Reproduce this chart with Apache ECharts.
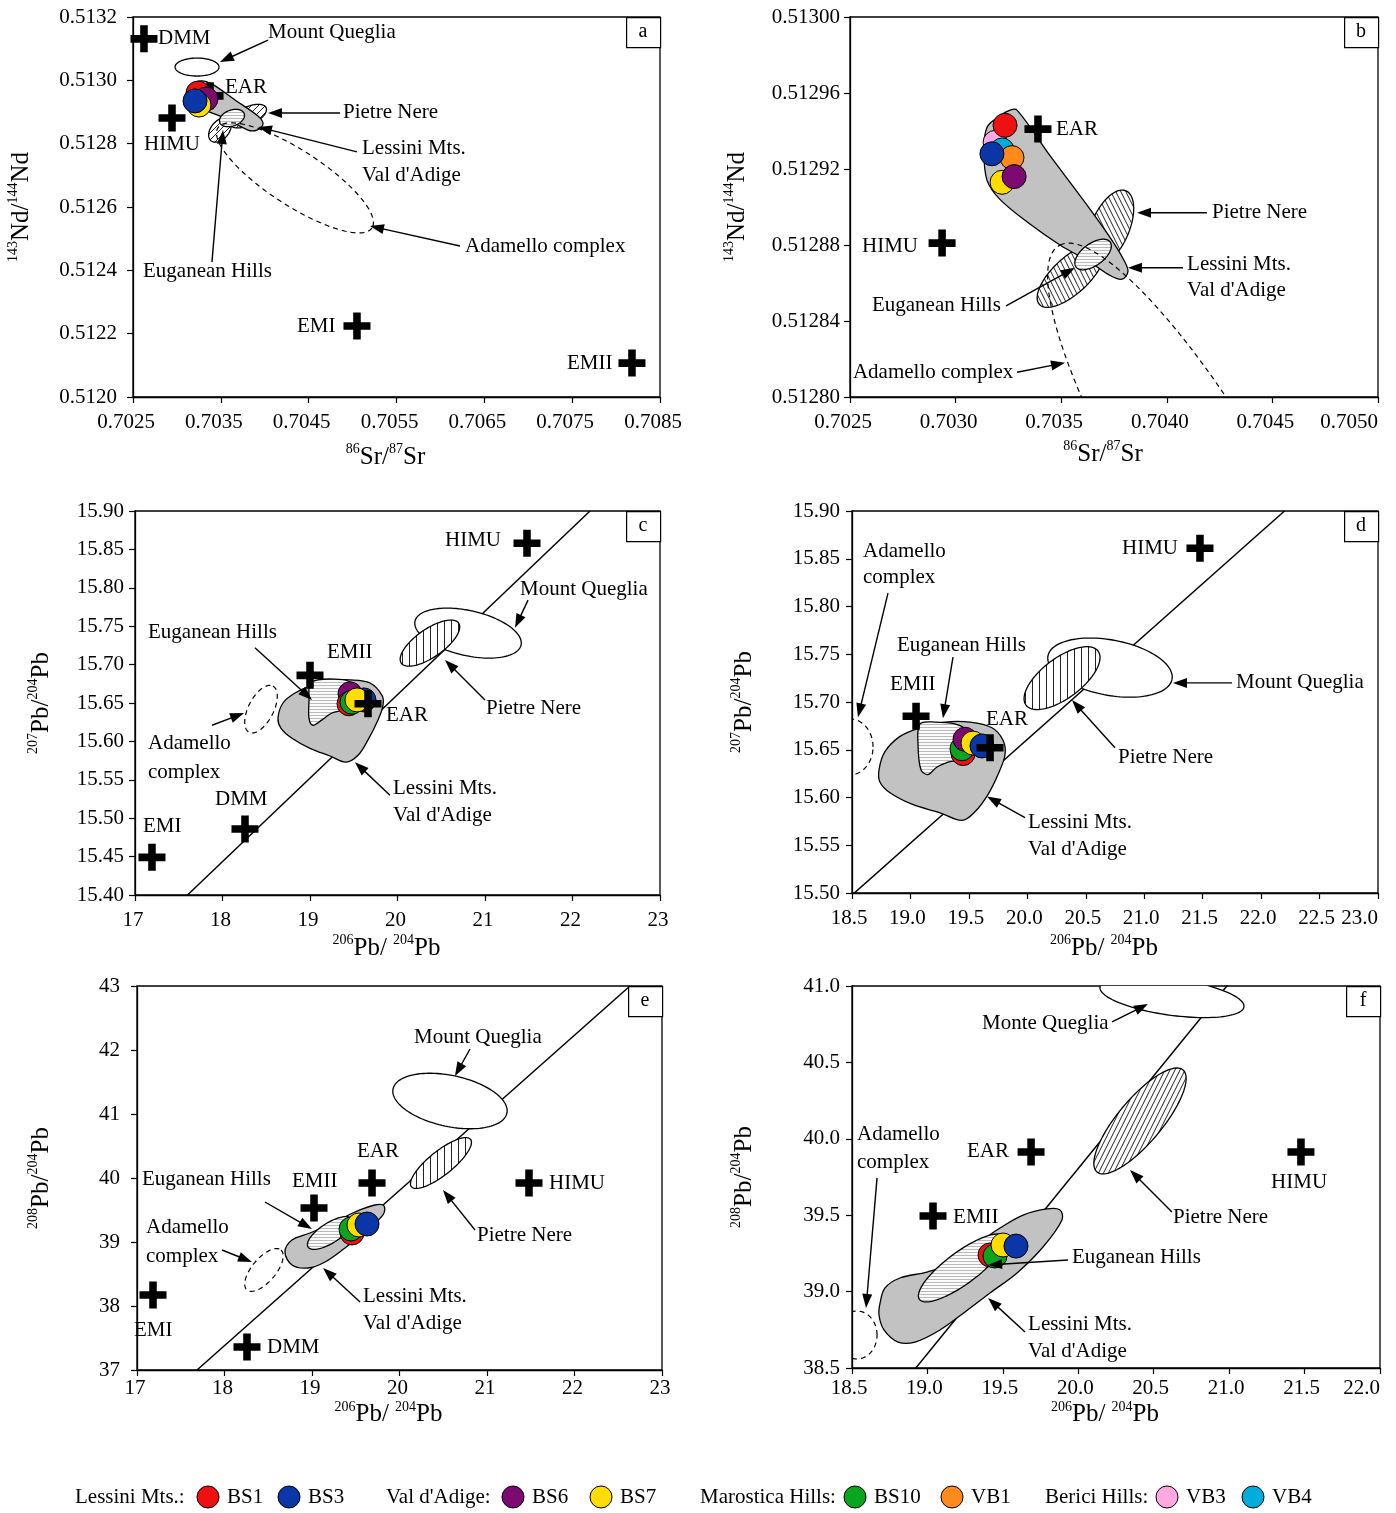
<!DOCTYPE html>
<html><head><meta charset="utf-8">
<script src="https://cdn.jsdelivr.net/npm/echarts/dist/echarts.min.js"></script>
<style>html,body{margin:0;padding:0;background:#fff}#chart{width:1396px;height:1513px}</style>
</head><body><div id="chart"></div>
<script>
// ---------------- DATA ----------------
// axis ranges: [min, max, tick interval, decimals]
const aXAxis = [0.7025, 0.7085, 0.001, 4], aYAxis = [0.5120, 0.5132, 0.0002, 4];
const bXAxis = [0.7025, 0.7050, 0.0005, 4], bYAxis = [0.51280, 0.51300, 0.00004, 5];
const cXAxis = [17, 23, 1, 0], cYAxis = [15.40, 15.90, 0.05, 2];
const dXAxis = [18.5, 23.0, 0.5, 1], dYAxis = [15.50, 15.90, 0.05, 2];
const eXAxis = [17, 23, 1, 0], eYAxis = [37, 43, 1, 0];
const fXAxis = [18.5, 22.0, 0.5, 1], fYAxis = [38.5, 41.0, 0.5, 1];

// Northern Hemisphere reference lines (two end points)
const pbLine207 = [[17.6, 15.40], [22.2, 15.90]];
const pbLine208 = [[17.686, 37], [22.634, 43]];

// end-members [name, x, y]
const aEndMembers = [['DMM',0.702625,0.513131],['HIMU',0.702944,0.512881],['EAR',0.703377,0.512951],['EMI',0.705050,0.512224],['EMII',0.708181,0.512107]];
const bEndMembers = [['EAR',0.703390,0.512941],['HIMU',0.702936,0.512881]];
const cEndMembers = [['HIMU',21.480,15.858],['EMII',19.000,15.686],['EAR',19.663,15.649],['DMM',18.257,15.486],['EMI',17.194,15.449]];
const dEndMembers = [['HIMU',21.477,15.861],['EMII',19.048,15.685],['EAR',19.681,15.652]];
const eEndMembers = [['EAR',19.686,39.922],['EMII',19.023,39.531],['HIMU',21.480,39.922],['EMI',17.183,38.172],['DMM',18.257,37.359]];
const fEndMembers = [['EAR',19.687,39.914],['EMII',19.037,39.495],['HIMU',21.476,39.914]];

// samples [sample, x, y] (drawing order)
const aSamples = [['BS1',0.703240,0.512960],['BS6',0.703331,0.512941],['BS7',0.703251,0.512922],['BS3',0.703206,0.512935]];
const bSamples = [['VB3',0.703187,0.512934],['VB4',0.703220,0.512930],['BS1',0.703234,0.512943],['VB1',0.703267,0.512926],['BS3',0.703172,0.512928],['BS7',0.703220,0.512913],['BS6',0.703277,0.512916]];
const cSamples = [['BS3',19.617,15.654],['BS6',19.457,15.662],['BS1',19.446,15.649],['BS10',19.480,15.651],['BS7',19.537,15.654]];
const dSamples = [['BS1',19.450,15.646],['BS10',19.441,15.651],['BS6',19.467,15.661],['BS7',19.535,15.657],['BS3',19.612,15.654]];
const eSamples = [['BS1',19.457,39.141],['BS10',19.446,39.203],['BS7',19.537,39.266],['BS3',19.629,39.281]];
const fSamples = [['BS1',19.415,39.240],['BS10',19.448,39.233],['BS7',19.501,39.305],['BS3',19.587,39.298]];

// fields drawn as outlines [x, y]
const aLessiniField = [[0.703149,0.512976],[0.703263,0.512998],[0.703399,0.512988],[0.703661,0.512938],[0.703923,0.512887],[0.703980,0.512862],[0.703912,0.512843],[0.703809,0.512843],[0.703547,0.512881],[0.703263,0.512913],[0.703149,0.512938]];
const bLessiniField = [[0.703291,0.512951],[0.703447,0.512927],[0.703589,0.512906],[0.703731,0.512884],[0.703797,0.512872],[0.703816,0.512866],[0.703788,0.512862],[0.703731,0.512864],[0.703636,0.512871],[0.703494,0.512880],[0.703352,0.512891],[0.703210,0.512904],[0.703149,0.512914],[0.703134,0.512930],[0.703149,0.512942],[0.703210,0.512948],[0.703258,0.512951]];
const cLessiniField = [[18.634,15.630],[18.691,15.650],[18.829,15.663],[19.000,15.672],[19.229,15.679],[19.457,15.680],[19.686,15.676],[19.823,15.660],[19.834,15.647],[19.777,15.628],[19.663,15.602],[19.549,15.582],[19.411,15.573],[19.229,15.581],[19.000,15.591],[18.794,15.604],[18.669,15.617]];
const cEuganeanField = [[19.000,15.675],[19.091,15.680],[19.286,15.681],[19.457,15.677],[19.480,15.654],[19.400,15.642],[19.251,15.637],[19.137,15.628],[19.034,15.621],[18.989,15.630],[18.989,15.654]];
const dLessiniField = [[18.731,15.629],[18.782,15.648],[18.911,15.664],[19.082,15.673],[19.296,15.679],[19.509,15.679],[19.698,15.673],[19.792,15.660],[19.809,15.645],[19.749,15.624],[19.663,15.603],[19.552,15.585],[19.441,15.576],[19.253,15.584],[19.013,15.593],[18.825,15.605],[18.740,15.616]];
const dEuganeanField = [[19.082,15.677],[19.210,15.679],[19.381,15.677],[19.467,15.671],[19.424,15.641],[19.321,15.637],[19.227,15.632],[19.150,15.624],[19.090,15.629],[19.065,15.655]];
const eLessiniField = [[18.691,38.844],[18.771,39.031],[18.977,39.141],[19.263,39.313],[19.491,39.469],[19.720,39.578],[19.823,39.563],[19.811,39.422],[19.606,39.156],[19.377,38.906],[19.149,38.688],[18.954,38.594],[18.771,38.641]];
const fLessiniField = [[18.686,38.925],[18.719,39.024],[18.818,39.089],[18.997,39.128],[19.183,39.194],[19.368,39.338],[19.481,39.416],[19.634,39.501],[19.793,39.541],[19.879,39.534],[19.892,39.469],[19.766,39.292],[19.594,39.122],[19.415,38.991],[19.249,38.867],[19.083,38.749],[18.918,38.670],[18.805,38.670],[18.712,38.749],[18.679,38.847]];

// elliptical fields [field, centre x, centre y, axis1 dx, axis1 dy, axis2 dx, axis2 dy]
const aEllipses = [
  ['Mount Queglia',0.703229,0.513042,0.000250,0,0,0.0000284],
  ['Pietre Nere',0.703809,0.512887,0.000206,0.0000268,0.0000433,-0.0000259],
  ['Pietre Nere',0.703490,0.512843,0.000102,0.0000338,0.0000786,-0.0000183],
  ['Euganean Hills',0.703627,0.512881,0.000139,0.0000139,0.0000307,-0.0000237],
  ['Adamello complex',0.704344,0.512692,0.000877,-0.000158,-0.000171,-0.0000726]
];
const bEllipses = [
  ['Pietre Nere',0.703731,0.512889,0.0000758,0.0000195,0.0000829,-0.0000040],
  ['Pietre Nere',0.703546,0.512864,0.000149,0.0000153,0.0000578,-0.0000070],
  ['Euganean Hills',0.703651,0.512875,0.0000805,0.0000066,0.0000313,-0.0000046],
  ['Adamello complex',0.704157,0.512756,-0.000663,0.000124,0.000284,0.0000158]
];
const cEllipses = [
  ['Mount Queglia',20.806,15.741,0.606,-0.0156,-0.057,-0.0286],
  ['Pietre Nere',20.371,15.728,0.328,0.026,0.091,-0.015],
  ['Adamello complex',18.440,15.642,0.137,0.030,0.126,-0.0078]
];
const dEllipses = [
  ['Mount Queglia',20.707,15.736,0.530,-0.0126,-0.051,-0.0283],
  ['Pietre Nere',20.297,15.725,0.308,0.0283,0.103,-0.0168],
  ['Adamello complex',18.483,15.653,0.197,0,0,0.0293]
];
const eEllipses = [
  ['Mount Queglia',20.577,41.203,0.651,-0.1875,-0.057,-0.391],
  ['Pietre Nere',20.474,40.234,0.338,0.369,0.0846,-0.147],
  ['Euganean Hills',19.206,39.141,0.251,0.219,0.0606,-0.133],
  ['Adamello complex',18.451,38.563,0.194,0.3125,0.103,-0.120]
];
const fEllipses = [
  ['Mount Queglia',20.621,40.928,0.477,-0.0655,-0.0199,-0.118],
  ['Pietre Nere',20.409,40.117,0.285,0.334,0.111,-0.0929],
  ['Euganean Hills',19.229,39.155,0.282,0.206,0.063,-0.0838],
  ['Adamello complex',18.533,38.716,0.133,0,0,0.157]
];

// annotation texts [text, left x, middle y]
const aLabels = [['DMM',0.702785,0.513131],['Mount Queglia',0.704037,0.513150],['EAR',0.703547,0.512976],['HIMU',0.702625,0.512796],['Pietre Nere',0.704891,0.512900],['Lessini Mts.',0.705107,0.512786],["Val d'Adige",0.705107,0.512698],['Adamello complex',0.706280,0.512474],['Euganean Hills',0.702614,0.512395],['EMI',0.704367,0.512224],['EMII',0.707441,0.512107]];
const bLabels = [['EAR',0.703475,0.512941],['HIMU',0.702557,0.512879],['Pietre Nere',0.704214,0.512897],['Lessini Mts.',0.704096,0.512870],["Val d'Adige",0.704096,0.512856],['Euganean Hills',0.702604,0.512848],['Adamello complex',0.702514,0.512813]];
const cLabels = [['HIMU',20.543,15.861],['Mount Queglia',21.400,15.798],['Euganean Hills',17.149,15.742],['EMII',19.194,15.716],['EAR',19.869,15.634],['Pietre Nere',21.012,15.643],['Adamello',17.149,15.597],['complex',17.149,15.560],['Lessini Mts.',19.949,15.539],["Val d'Adige",19.949,15.503],['DMM',17.914,15.524],['EMI',17.091,15.489]];
const dLabels = [['Adamello',18.594,15.858],['complex',18.594,15.830],['HIMU',20.810,15.861],['Euganean Hills',18.885,15.759],['EMII',18.825,15.718],['EAR',19.646,15.682],['Mount Queglia',21.785,15.720],['Pietre Nere',20.776,15.642],['Lessini Mts.',20.006,15.574],["Val d'Adige",20.006,15.546]];
const eLabels = [['Mount Queglia',20.166,42.203],['EAR',19.514,40.422],['Euganean Hills',17.057,39.969],['EMII',18.771,39.938],['HIMU',21.709,39.922],['Pietre Nere',20.886,39.094],['Adamello',17.103,39.219],['complex',17.103,38.781],['Lessini Mts.',19.583,38.141],["Val d'Adige",19.583,37.719],['EMI',16.966,37.625],['DMM',18.486,37.359]];
const fLabels = [['Monte Queglia',19.362,40.752],['Adamello',18.533,40.025],['complex',18.533,39.848],['EAR',19.262,39.914],['HIMU',21.278,39.711],['EMII',19.170,39.488],['Pietre Nere',20.628,39.488],['Euganean Hills',19.958,39.220],['Lessini Mts.',19.667,38.788],["Val d'Adige",19.667,38.611]];

// arrows [from x, from y, to x, to y]
const aArrows = [[0.704037,0.513127,0.703490,0.513058],[0.704857,0.512897,0.704037,0.512897],[0.705050,0.512774,0.703923,0.512853],[0.706223,0.512477,0.705198,0.512540],[0.703399,0.512426,0.703525,0.512843]];
const bArrows = [[0.704190,0.512897,0.703859,0.512897],[0.704077,0.512868,0.703816,0.512868],[0.703239,0.512848,0.703565,0.512868],[0.703291,0.512813,0.703518,0.512818]];
const cArrows = [[21.492,15.784,21.343,15.748],[21.000,15.654,20.543,15.706],[18.371,15.722,19.023,15.654],[17.880,15.621,18.246,15.637],[19.914,15.530,19.514,15.573]];
const dArrows = [[18.808,15.814,18.551,15.684],[19.364,15.747,19.278,15.683],[21.751,15.720,21.246,15.720],[20.750,15.652,20.382,15.702],[19.980,15.579,19.655,15.601]];
const eArrows = [[20.806,42.016,20.634,41.594],[20.863,39.188,20.497,39.813],[18.463,39.625,19.000,39.203],[17.971,38.875,18.314,38.688],[19.549,38.063,19.126,38.594]];
const fArrows = [[20.224,40.765,20.462,40.882],[18.666,39.744,18.593,38.893],[20.621,39.521,20.343,39.796],[19.932,39.207,19.402,39.174],[19.647,38.736,19.402,38.958]];

const legendGroups = [['Lessini Mts.:',['BS1','BS3']],["Val d'Adige:",['BS6','BS7']],['Marostica Hills:',['BS10','VB1']],['Berici Hills:',['VB3','VB4']]];

// ---------------- STYLE / LAYOUT ----------------
const FONT = '"Liberation Serif","Times New Roman",serif';
const SAMPLE_COLORS = {BS1:'#ee1111',BS3:'#0b36a8',BS6:'#7d0a70',BS7:'#ffdd00',BS10:'#0aa51e',VB1:'#ff8a1c',VB3:'#ffa8e2',VB4:'#00aedc'};
const CROSS = 'path://M3.6,0H6.4V3.6H10V6.4H6.4V10H3.6V6.4H0V3.6H3.6Z';
const FIELD_ORDER = {'Mount Queglia':1,'Pietre Nere':2,'Lessini':3,'Euganean Hills':4,'Adamello complex':5};

function makePattern(kind){
  const c = document.createElement('canvas');
  let w = 7, h = 7;
  if (kind === 'h') { w = 3; h = 3; }
  if (kind === 'd1s' || kind === 'd2s') { w = 5; h = 10; }
  c.width = w; c.height = h;
  const g = c.getContext('2d');
  g.fillStyle = kind === 'h' ? '#fbfbfb' : '#ffffff';
  g.fillRect(0,0,w,h);
  g.strokeStyle = kind === 'h' ? '#a8a8a8' : '#222';
  g.lineWidth = kind === 'h' ? 0.8 : 1;
  g.beginPath();
  if (kind === 'v') { g.moveTo(w/2,0); g.lineTo(w/2,h); }
  else if (kind === 'h') { g.moveTo(0,h/2); g.lineTo(w,h/2); }
  else if (kind === 'd1' || kind === 'd1s') { for (const dx of [-w,0,w]) { g.moveTo(dx,h); g.lineTo(dx+w,0); } }
  else { for (const dx of [-w,0,w]) { g.moveTo(dx,0); g.lineTo(dx+w,h); } }
  g.stroke();
  return {image:c, repeat:'repeat'};
}
const PAT = {v:makePattern('v'), h:makePattern('h'), d1:makePattern('d1'), d1s:makePattern('d1s'), d2s:makePattern('d2s')};

function fieldStyle(field, hatch){
  const base = {stroke:'#000', lineWidth:1.3};
  if (field === 'Mount Queglia') return Object.assign(base,{fill:'#fff'});
  if (field === 'Pietre Nere') return Object.assign(base,{fill:PAT[hatch]});
  if (field === 'Lessini') return Object.assign(base,{fill:'#c2c2c2'});
  if (field === 'Euganean Hills') return Object.assign(base,{fill:PAT.h});
  return {stroke:'#000', lineWidth:1.2, fill:null, lineDash:[5,4]};
}

function ellipsePts(e){
  const pts = [];
  for (let k = 0; k < 120; k++) {
    const t = k/120*2*Math.PI, c = Math.cos(t), s = Math.sin(t);
    pts.push([e[1]+e[3]*c+e[5]*s, e[2]+e[4]*c+e[6]*s]);
  }
  return pts;
}

const PANELS = [
  {id:'a', grid:{left:133,top:17,width:527,height:380}, xa:aXAxis, ya:aYAxis, xName:'{s|86}Sr/{s|87}Sr', yName:'{s|143}Nd/{s|144}Nd', xGap:45, yGap:97, xMargin:15, yMargin:16, xShift:7, alignMax:false, hatch:'d1', crossOnTop:false,
   ends:aEndMembers, samples:aSamples, ellipses:aEllipses, polys:[['Lessini',aLessiniField]], labels:aLabels, arrows:aArrows, line:null},
  {id:'b', grid:{left:850,top:17,width:528,height:380}, xa:bXAxis, ya:bYAxis, xName:'{s|86}Sr/{s|87}Sr', yName:'{s|143}Nd/{s|144}Nd', xGap:42, yGap:98, xMargin:15, yMargin:10, xShift:7, alignMax:true, hatch:'d2s', crossOnTop:false,
   ends:bEndMembers, samples:bSamples, ellipses:bEllipses, polys:[['Lessini',bLessiniField]], labels:bLabels, arrows:bArrows, line:null},
  {id:'c', grid:{left:135,top:511,width:525,height:384}, xa:cXAxis, ya:cYAxis, xName:'{s|206}Pb/ {s|204}Pb', yName:'{s|207}Pb/{s|204}Pb', xGap:38, yGap:79, xMargin:15, yMargin:11, xShift:2, alignMax:false, hatch:'v', crossOnTop:true,
   ends:cEndMembers, samples:cSamples, ellipses:cEllipses, polys:[['Lessini',cLessiniField],['Euganean Hills',cEuganeanField]], labels:cLabels, arrows:cArrows, line:pbLine207},
  {id:'d', grid:{left:852,top:511,width:526,height:382}, xa:dXAxis, ya:dYAxis, xName:'{s|206}Pb/ {s|204}Pb', yName:'{s|207}Pb/{s|204}Pb', xGap:40, yGap:93, xMargin:15, yMargin:12, xShift:3, alignMax:true, hatch:'v', crossOnTop:true,
   ends:dEndMembers, samples:dSamples, ellipses:dEllipses, polys:[['Lessini',dLessiniField],['Euganean Hills',dEuganeanField]], labels:dLabels, arrows:dArrows, line:pbLine207},
  {id:'e', grid:{left:137,top:986,width:525,height:384}, xa:eXAxis, ya:eYAxis, xName:'{s|206}Pb/ {s|204}Pb', yName:'{s|208}Pb/{s|204}Pb', xGap:29, yGap:81, xMargin:8, yMargin:17, xShift:2, alignMax:false, hatch:'v', crossOnTop:true,
   ends:eEndMembers, samples:eSamples, ellipses:eEllipses, polys:[['Lessini',eLessiniField]], labels:eLabels, arrows:eArrows, line:pbLine208},
  {id:'f', grid:{left:852,top:986,width:528,height:382}, xa:fXAxis, ya:fYAxis, xName:'{s|206}Pb/ {s|204}Pb', yName:'{s|208}Pb/{s|204}Pb', xGap:28, yGap:93, xMargin:10, yMargin:12, xShift:3, alignMax:true, hatch:'d1s', crossOnTop:true,
   ends:fEndMembers, samples:fSamples, ellipses:fEllipses, polys:[['Lessini',fLessiniField]], labels:fLabels, arrows:fArrows, line:pbLine208}
];

const nameRich = {s:{fontFamily:FONT, fontSize:14, color:'#000', lineHeight:12, verticalAlign:'top'}};
const labelStyle = {fontFamily:FONT, fontSize:21, color:'#000'};

const option = {animation:false, backgroundColor:'#fff', textStyle:{fontFamily:FONT}, grid:[], xAxis:[], yAxis:[], series:[], graphic:[]};

PANELS.forEach((P, i) => {
  const x0 = P.xa[0], y0 = P.ya[0];
  const sx = v => v - x0, sy = v => v - y0;
  const xMax = +(P.xa[1]-x0).toFixed(10);
  option.grid.push(Object.assign({show:true, borderColor:'#000', borderWidth:1.3, backgroundColor:'transparent'}, P.grid));
  option.xAxis.push({gridIndex:i, type:'value', min:0, max:xMax, interval:P.xa[2],
    name:P.xName, nameLocation:'middle', nameGap:P.xGap,
    nameTextStyle:{fontFamily:FONT, fontSize:25, color:'#000', lineHeight:30, padding:[0,22,0,0], rich:nameRich},
    axisLine:{show:true, onZero:false, lineStyle:{color:'#000', width:1.3}},
    axisTick:{show:true, inside:false, length:6, lineStyle:{color:'#000', width:1.2}},
    axisLabel:{margin:P.xMargin, ...labelStyle, alignMaxLabel:P.alignMax ? 'right' : null,
      rich:{p:{...labelStyle, padding:[0, 2*P.xShift, 0, 0]}, m:{...labelStyle}},
      formatter:v => {
        const t = (v + x0).toFixed(P.xa[3]);
        return (P.alignMax && Math.abs(v - xMax) < 1e-9) ? '{m|' + t + '}' : '{p|' + t + '}';
      }},
    splitLine:{show:false}});
  option.yAxis.push({gridIndex:i, type:'value', min:0, max:+(P.ya[1]-y0).toFixed(10), interval:P.ya[2],
    name:P.yName, nameLocation:'middle', nameGap:P.yGap, nameRotate:90,
    nameTextStyle:{fontFamily:FONT, fontSize:25, color:'#000', lineHeight:30, rich:nameRich},
    axisLine:{show:true, onZero:false, lineStyle:{color:'#000', width:1.3}},
    axisTick:{show:true, inside:false, length:6, lineStyle:{color:'#000', width:1.2}},
    axisLabel:{margin:P.yMargin, ...labelStyle, formatter:v => (v + y0).toFixed(P.ya[3])},
    splitLine:{show:false}});

  // reference line
  if (P.line) {
    option.series.push({type:'line', xAxisIndex:i, yAxisIndex:i, silent:true, z:1, symbol:'none',
      data:P.line.map(p => [sx(p[0]), sy(p[1])]), lineStyle:{color:'#000', width:1.5}});
  }

  // fields
  const shapes = [];
  P.ellipses.forEach(e => shapes.push({field:e[0], pts:ellipsePts(e), smooth:0}));
  P.polys.forEach(p => shapes.push({field:p[0], pts:p[1], smooth:0.35}));
  shapes.sort((u, w) => FIELD_ORDER[u.field] - FIELD_ORDER[w.field]);
  option.series.push({type:'custom', xAxisIndex:i, yAxisIndex:i, silent:true, z:2, clip:true,
    data:shapes.map(s => [sx(s.pts[0][0]), sy(s.pts[0][1])]),
    renderItem:(params, api) => {
      const s = shapes[params.dataIndex];
      const pts = s.pts.map(p => api.coord([sx(p[0]), sy(p[1])]));
      return {type:'polygon', z2:FIELD_ORDER[s.field], shape:{points:pts, smooth:s.smooth}, style:fieldStyle(s.field, P.hatch)};
    }});

  // arrows
  option.series.push({type:'custom', xAxisIndex:i, yAxisIndex:i, silent:true, z:5, clip:false,
    data:P.arrows.map(a => [sx(a[2]), sy(a[3])]),
    renderItem:(params, api) => {
      const a = P.arrows[params.dataIndex];
      const p1 = api.coord([sx(a[0]), sy(a[1])]), p2 = api.coord([sx(a[2]), sy(a[3])]);
      const ang = Math.atan2(p2[1]-p1[1], p2[0]-p1[0]), c = Math.cos(ang), s = Math.sin(ang);
      const L = 14, W = 5;
      const bx = p2[0]-L*c, by = p2[1]-L*s;
      return {type:'group', children:[
        {type:'line', shape:{x1:p1[0], y1:p1[1], x2:bx+2*c, y2:by+2*s}, style:{stroke:'#000', lineWidth:1.4}},
        {type:'polygon', shape:{points:[p2,[bx-W*s, by+W*c],[bx+W*s, by-W*c]]}, style:{fill:'#000'}}
      ]};
    }});

  // end-members
  option.series.push({type:'scatter', xAxisIndex:i, yAxisIndex:i, silent:true, z:P.crossOnTop ? 4 : 3,
    symbol:CROSS, symbolSize:27, itemStyle:{color:'#000', opacity:1},
    data:P.ends.map(e => ({name:e[0], value:[sx(e[1]), sy(e[2])]}))});

  // samples
  option.series.push({type:'scatter', xAxisIndex:i, yAxisIndex:i, silent:true, z:P.crossOnTop ? 3 : 4,
    symbol:'circle', symbolSize:24,
    data:P.samples.map(s => ({name:s[0], value:[sx(s[1]), sy(s[2])], itemStyle:{color:SAMPLE_COLORS[s[0]], borderColor:'#000', borderWidth:1, opacity:1}}))});

  // texts
  option.series.push({type:'custom', xAxisIndex:i, yAxisIndex:i, silent:true, z:6, clip:false,
    data:P.labels.map(l => [sx(l[1]), sy(l[2])]),
    renderItem:(params, api) => {
      const l = P.labels[params.dataIndex];
      const p = api.coord([sx(l[1]), sy(l[2])]);
      return {type:'text', x:p[0], y:p[1], style:{text:l[0], font:'21px ' + FONT, fill:'#000', textAlign:'left', textVerticalAlign:'middle'}};
    }});

  // panel letter box
  const g = P.grid, bw = 34, bh = 30;
  option.graphic.push({type:'rect', left:g.left+g.width-bw, top:g.top, shape:{width:bw, height:bh}, style:{fill:'#fff', stroke:'#000', lineWidth:1.2}, z:10});
  option.graphic.push({type:'text', x:g.left+g.width-bw/2, y:g.top+bh/2, style:{text:P.id, font:'20px ' + FONT, fill:'#000', textAlign:'center', textVerticalAlign:'middle'}, z:11});
});

// legend
const LEG_Y = 1497;
const legendTextX = [75, 386, 700, 1045];
const legendCircleX = [[208,289],[513,601],[855,952],[1167,1253]];
legendGroups.forEach((grp, gi) => {
  option.graphic.push({type:'text', x:legendTextX[gi], y:LEG_Y, style:{text:grp[0], font:'21px ' + FONT, fill:'#000', textAlign:'left', textVerticalAlign:'middle'}});
  grp[1].forEach((name, k) => {
    const cx = legendCircleX[gi][k];
    option.graphic.push({type:'circle', shape:{cx:cx, cy:LEG_Y, r:11}, style:{fill:SAMPLE_COLORS[name], stroke:'#000', lineWidth:1}});
    option.graphic.push({type:'text', x:cx+19, y:LEG_Y, style:{text:name, font:'21px ' + FONT, fill:'#000', textAlign:'left', textVerticalAlign:'middle'}});
  });
});

const chart = echarts.init(document.getElementById('chart'), null, {renderer:'canvas'});
chart.setOption(option);
</script></body></html>
